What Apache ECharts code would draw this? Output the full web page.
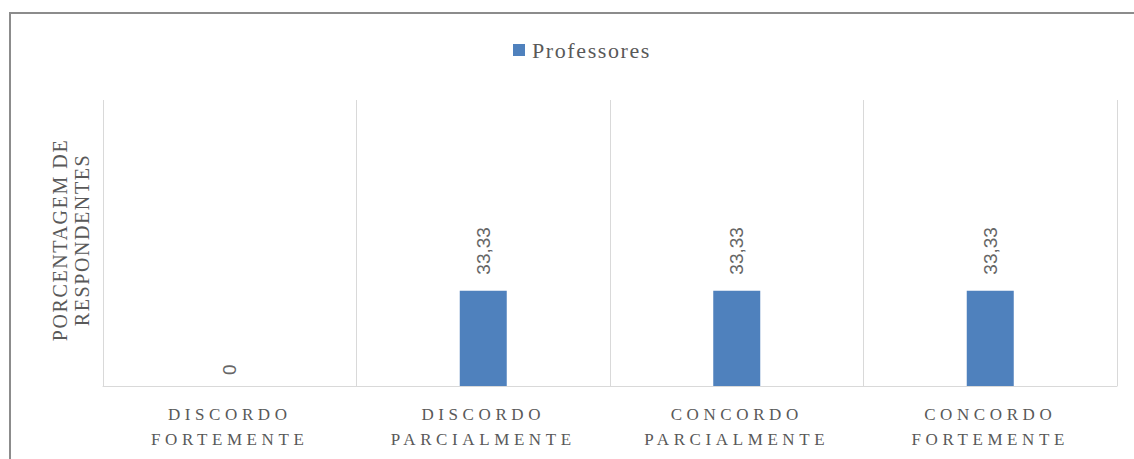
<!DOCTYPE html>
<html>
<head>
<meta charset="utf-8">
<script src="https://cdn.jsdelivr.net/npm/echarts@6/dist/echarts.min.js"></script>
<style>
html,body{margin:0;padding:0;background:#fff;}
#chart{width:1134px;height:459px;}
#chart text[style*="17px"][style*="Serif"]{letter-spacing:4.6px;}
#chart text[style*="20px"][style*="Serif"]{letter-spacing:1.6px;}
#chart text[style*="22px"][style*="Serif"]{letter-spacing:1.6px;}
</style>
</head>
<body>
<div id="chart"></div>
<script>
const categories = ['DISCORDO\nFORTEMENTE', 'DISCORDO\nPARCIALMENTE', 'CONCORDO\nPARCIALMENTE', 'CONCORDO\nFORTEMENTE'];
const seriesName = 'Professores';
const professores = [0, 33.33, 33.33, 33.33];
const yAxisTitle = 'PORCENTAGEM DE\nRESPONDENTES';

const chart = echarts.init(document.getElementById('chart'), null, {renderer: 'svg'});
chart.setOption({
  animation: false,
  backgroundColor: '#ffffff',
  graphic: [{
    type: 'rect',
    shape: {x: 10, y: 13, width: 1200, height: 500},
    style: {fill: 'none', stroke: '#8c8c8c', lineWidth: 2},
    silent: true
  }, {
    type: 'text',
    style: {
      text: yAxisTitle,
      font: '20px "Liberation Serif"',
      fill: '#595959',
      align: 'center',
      verticalAlign: 'middle',
      lineHeight: 22
    },
    rotation: Math.PI / 2,
    x: 71, y: 240,
    silent: true
  }],
  legend: {
    data: [seriesName],
    left: 513,
    top: 39,
    padding: 0,
    icon: 'rect',
    itemWidth: 12,
    itemHeight: 12,
    textStyle: {fontFamily: 'Liberation Serif', fontSize: 22, color: '#595959', padding: [0, 0, 0, 2]}
  },
  grid: {left: 103, right: 17, top: 100, bottom: 73, containLabel: false},
  xAxis: {
    type: 'category',
    data: categories,
    axisLine: {show: true, lineStyle: {color: '#d9d9d9', width: 1}},
    axisTick: {show: false},
    splitLine: {show: true, lineStyle: {color: '#d9d9d9', width: 1}},
    axisLabel: {
      interval: 0,
      margin: 16,
      fontFamily: 'Liberation Serif',
      fontSize: 17,
      lineHeight: 25,
      color: '#595959'
    }
  },
  yAxis: {
    type: 'value',
    min: 0,
    max: 100,
    axisLine: {show: false},
    axisTick: {show: false},
    axisLabel: {show: false},
    splitLine: {show: false}
  },
  series: [{
    name: seriesName,
    type: 'bar',
    barWidth: 47,
    itemStyle: {color: '#4f81bd'},
    label: {
      show: true,
      position: 'top',
      rotate: 90,
      align: 'left',
      verticalAlign: 'middle',
      distance: 15,
      fontFamily: 'Liberation Sans',
      fontSize: 19,
      color: '#666666',
      formatter: p => String(p.value).replace('.', ',')
    },
    data: professores.map(v => ({value: v, label: {distance: v === 0 ? 11 : 16}}))
  }]
});
</script>
</body>
</html>
